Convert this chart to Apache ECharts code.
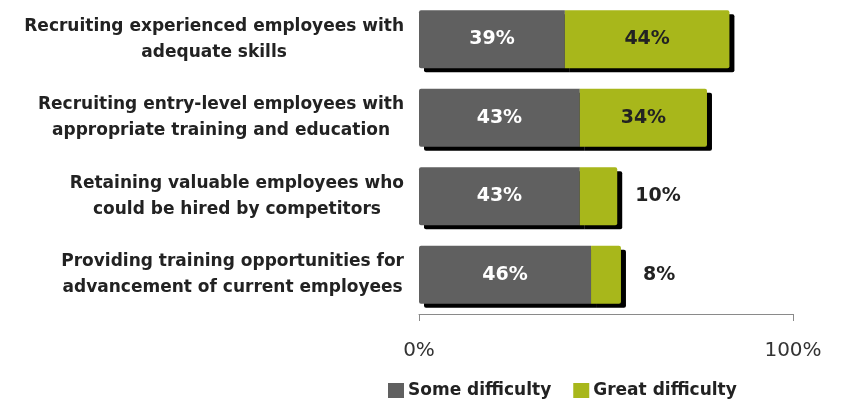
<!DOCTYPE html>
<html><head><meta charset="utf-8">
<script src="https://cdn.jsdelivr.net/npm/echarts@6/dist/echarts.min.js"></script>
<style>html,body{margin:0;padding:0;background:#fff}#c{width:842px;height:402px}</style>
</head><body><div id="c"></div>
<script>
const categories = [
  "Recruiting experienced employees with\nadequate skills",
  "Recruiting entry-level employees with\nappropriate training and education",
  "Retaining valuable employees who\ncould be hired by competitors",
  "Providing training opportunities for\nadvancement of current employees"
];
const someDifficulty = [39, 43, 43, 46];
const greatDifficulty = [44, 34, 10, 8];
const seriesNames = ["Some difficulty", "Great difficulty"];
const xTicks = [0, 100];

const FONT = "DejaVu Sans";
const shadow = {shadowColor: '#000', shadowOffsetX: 5, shadowOffsetY: 4, shadowBlur: 0};

const chart = echarts.init(document.getElementById('c'));
chart.setOption({
  animation: false,
  textStyle: {fontFamily: FONT},
  grid: {left: 419, right: 49, top: 0, bottom: 88, containLabel: false},
  legend: {
    top: 377, left: 383,
    itemWidth: 16, itemHeight: 15, itemGap: 22,
    icon: 'rect',
    textStyle: {fontFamily: FONT, fontWeight: 'bold', fontSize: 17, color: '#222', padding: [0, 0, 0, -1]},
    data: seriesNames
  },
  xAxis: {
    type: 'value', min: xTicks[0], max: xTicks[1], interval: 100,
    splitLine: {show: false},
    axisLine: {show: true, lineStyle: {color: '#8a8a8a', width: 1}},
    axisTick: {show: true, length: 7, lineStyle: {color: '#8a8a8a'}},
    axisLabel: {margin: 27, fontSize: 20, color: '#333', fontFamily: FONT, formatter: v => v + '%'}
  },
  yAxis: {
    type: 'category', inverse: true, data: categories,
    axisLine: {show: false}, axisTick: {show: false},
    axisLabel: {
      margin: 15, align: 'right', color: '#222', fontFamily: FONT, fontWeight: 'bold', fontSize: 17,
      lineHeight: 26,
      formatter: v => v.split('\n').map(s => '{c|' + s + '}').join('\n'),
      rich: {c: {align: 'center', fontFamily: FONT, fontWeight: 'bold', fontSize: 17, color: '#222', lineHeight: 26}}
    }
  },
  series: [
    {
      name: seriesNames[0], type: 'bar', stack: 's', barWidth: 58,
      itemStyle: Object.assign({color: '#606060', borderRadius: [2, 0, 0, 2]}, shadow),
      label: {show: true, position: 'inside', color: '#fff', fontWeight: 'bold', fontSize: 19, fontFamily: FONT, formatter: p => p.value + '%'},
      data: someDifficulty
    },
    {
      name: seriesNames[1], type: 'bar', stack: 's', barWidth: 58,
      itemStyle: Object.assign({color: '#a8b71b', borderRadius: [0, 2, 2, 0]}, shadow),
      label: {show: true, position: 'inside', color: '#222', fontWeight: 'bold', fontSize: 19, fontFamily: FONT, formatter: p => p.value + '%'},
      data: greatDifficulty.map(v => v < 15 ? {value: v, label: {position: 'right', distance: v < 9 ? 22 : 18}} : v)
    }
  ]
});
</script></body></html>
